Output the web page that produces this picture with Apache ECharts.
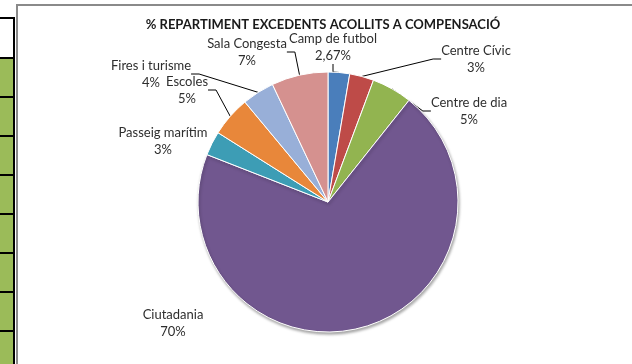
<!DOCTYPE html>
<html>
<head>
<meta charset="utf-8">
<script src="https://cdn.jsdelivr.net/npm/echarts@6/dist/echarts.min.js"></script>
<style>
  html, body { margin: 0; padding: 0; width: 632px; height: 364px; overflow: hidden; background: #fff; }
  #sheet { position: absolute; left: 0; top: 0; width: 16px; height: 364px; }
  #sheet .head { position: absolute; left: 0; top: 17px; width: 15px; height: 40px; border-top: 2px solid #000; border-right: 2px solid #000; background: #fff; box-sizing: border-box; }
  #sheet .cell { position: absolute; left: 0; width: 15px; height: 39px; background: #9bbb59; border-top: 2px solid #000; border-right: 2px solid #000; box-sizing: border-box; }
  #frame { position: absolute; left: 16px; top: 4px; right: -4px; bottom: -4px; border-left: 2px solid #8a8a8a; border-top: 2px solid #8a8a8a; background: #fff; }
  #chart { position: absolute; left: 0; top: 0; width: 632px; height: 364px; }
</style>
</head>
<body>
<div id="sheet"><div class="head"></div></div>
<div id="frame"></div>
<div id="chart"></div>
<script>
// Share of the surplus assigned to each compensation item (percent)
const categories = ['Camp de futbol', 'Centre Cívic', 'Centre de dia', 'Ciutadania',
                    'Passeig marítim', 'Escoles', 'Fires i turisme', 'Sala Congesta'];
const shares = [2.67, 3, 5, 70, 3, 5, 4, 7];
const sliceColors = ['#4a7ebb', '#be4b48', '#92b450', '#71578f',
                     '#3d9db5', '#e8873a', '#98afd8', '#d5918f'];
const titleText = '% REPARTIMENT EXCEDENTS ACOLLITS A COMPENSACIÓ';

// Spreadsheet rows peeking out on the left
const sheet = document.getElementById('sheet');
for (let i = 0; i < 8; i++) {
  const c = document.createElement('div');
  c.className = 'cell';
  c.style.top = (57 + i * 39) + 'px';
  sheet.appendChild(c);
}

// Where each data label sits (centre of the text block), plus whether it has a leader line
const labelPlacement = {
  'Camp de futbol':  { x: 333, y: 47,  line: true },
  'Centre Cívic':    { x: 476, y: 59,  line: true },
  'Centre de dia':   { x: 469, y: 111, line: true },
  'Ciutadania':      { x: 173, y: 323, line: false },
  'Passeig marítim': { x: 163, y: 141, line: false },
  'Escoles':         { x: 187, y: 90,  line: true },
  'Fires i turisme': { x: 151, y: 74,  line: true },
  'Sala Congesta':   { x: 247, y: 52,  line: true }
};

function fmtPct(v) {
  return String(v).replace('.', ',') + '%';
}

const data = categories.map((name, i) => {
  const item = {
    name: name,
    value: shares[i],
    itemStyle: { color: sliceColors[i] },
    labelLine: { show: labelPlacement[name].line }
  };
  // the big slice carries the soft drop shadow along the bottom rim
  if (name === 'Ciutadania') {
    Object.assign(item.itemStyle, {
      shadowBlur: 3, shadowOffsetX: 1, shadowOffsetY: 2, shadowColor: 'rgba(0,0,0,0.35)'
    });
  }
  return item;
});

const chart = echarts.init(document.getElementById('chart'), null, { renderer: 'canvas' });
chart.setOption({
  backgroundColor: 'transparent',
  animation: false,
  title: {
    text: titleText,
    left: 318,
    top: 13,
    textAlign: 'center',
    textStyle: { fontFamily: 'Lato', fontWeight: 'bold', fontSize: 13, color: '#1a1a1a' }
  },
  series: [{
    type: 'pie',
    center: [328, 202],
    radius: 130,
    startAngle: 90,
    clockwise: true,
    data: data,
    itemStyle: { borderColor: '#ffffff', borderWidth: 1 },
    label: {
      show: true,
      position: 'outside',
      formatter: p => p.name + '\n' + fmtPct(p.value),
      fontFamily: 'Lato',
      fontSize: 13,
      lineHeight: 17,
      color: '#2e2e2e',
      align: 'center'
    },
    labelLine: {
      show: true,
      length: 10,
      length2: 8,
      lineStyle: { color: '#000000', width: 1 }
    },
    labelLayout: function (params) {
      const pos = labelPlacement[categories[params.dataIndex]];
      return { x: pos.x, y: pos.y, align: 'center', verticalAlign: 'middle' };
    },
    emphasis: { disabled: true }
  }]
});
</script>
</body>
</html>
